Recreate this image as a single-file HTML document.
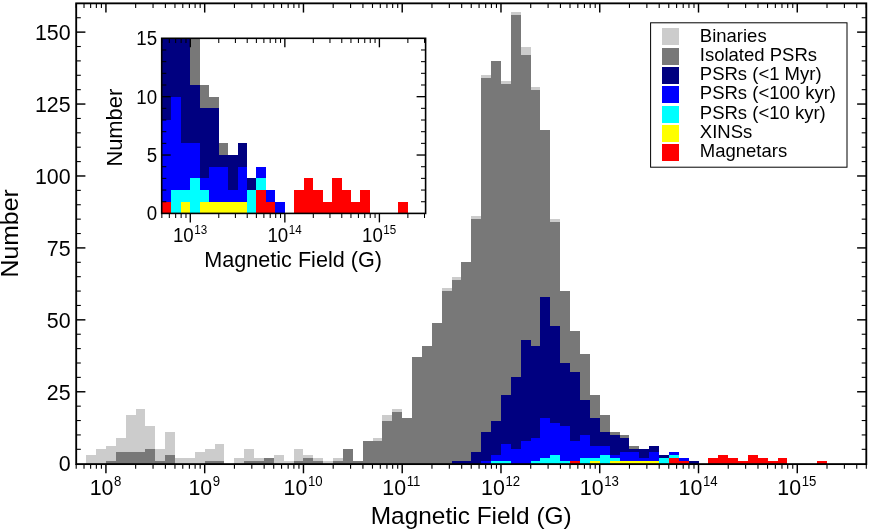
<!DOCTYPE html>
<html><head><meta charset="utf-8"><title>Magnetic field histogram</title>
<style>
html,body{margin:0;padding:0;background:#fff;}
body{width:869px;height:530px;overflow:hidden;}
svg{display:block;will-change:transform;}
text{font-family:"Liberation Sans",sans-serif;fill:#000;}
</style></head><body>
<svg width="869" height="530" viewBox="0 0 869 530">
<rect width="869" height="530" fill="#fff"/>
<g shape-rendering="crispEdges">
<path d="M86.18 463.7H96.05V455.07H86.18ZM96.05 463.7H105.93V449.31H96.05ZM105.93 463.7H115.81V446.44H105.93ZM115.81 463.7H125.68V437.81H115.81ZM125.68 463.7H135.56V414.79H125.68ZM135.56 463.7H145.44V409.03H135.56ZM145.44 463.7H155.31V426.3H145.44ZM155.31 463.7H165.19V449.31H155.31ZM165.19 463.7H175.06V432.05H165.19ZM175.06 463.7H184.94V457.95H175.06ZM184.94 463.7H194.82V457.95H184.94ZM194.82 463.7H204.69V452.19H194.82ZM204.69 463.7H214.57V449.31H204.69ZM214.57 463.7H224.45V443.56H214.57ZM234.32 463.7H244.2V457.95H234.32ZM244.2 463.7H254.07V449.31H244.2ZM254.07 463.7H263.95V457.95H254.07ZM263.95 463.7H273.83V457.95H263.95ZM273.83 463.7H283.7V455.07H273.83ZM283.7 463.7H293.58V460.82H283.7ZM293.58 463.7H303.46V449.31H293.58ZM303.46 463.7H313.33V455.07H303.46ZM313.33 463.7H323.21V457.95H313.33ZM323.21 463.7H333.08V460.82H323.21ZM333.08 463.7H342.96V457.95H333.08ZM342.96 463.7H352.84V449.31H342.96ZM352.84 463.7H362.71V460.82H352.84ZM362.71 463.7H372.59V440.68H362.71ZM372.59 463.7H382.47V437.81H372.59ZM382.47 463.7H392.34V414.79H382.47ZM392.34 463.7H402.22V409.03H392.34ZM402.22 463.7H412.09V417.66H402.22ZM412.09 463.7H421.97V357.24H412.09ZM421.97 463.7H431.85V345.74H421.97ZM431.85 463.7H441.72V322.72H431.85ZM441.72 463.7H451.6V288.19H441.72ZM451.6 463.7H461.48V276.68H451.6ZM461.48 463.7H471.35V262.3H461.48ZM471.35 463.7H481.23V216.26H471.35ZM481.23 463.7H491.1V75.28H481.23ZM491.1 463.7H500.98V60.89H491.1ZM500.98 463.7H510.86V81.03H500.98ZM510.86 463.7H520.73V11.98H510.86ZM520.73 463.7H530.61V46.51H520.73ZM530.61 463.7H540.49V86.79H530.61ZM540.49 463.7H550.36V129.95H540.49ZM550.36 463.7H560.24V219.14H550.36ZM560.24 463.7H570.11V291.07H560.24ZM570.11 463.7H579.99V331.35H570.11ZM579.99 463.7H589.87V354.37H579.99ZM589.87 463.7H599.74V394.65H589.87ZM599.74 463.7H609.62V414.79H599.74ZM609.62 463.7H619.5V432.05H609.62ZM619.5 463.7H629.37V434.93H619.5ZM629.37 463.7H639.25V446.44H629.37ZM639.25 463.7H649.12V449.31H639.25ZM649.12 463.7H659V446.44H649.12ZM659 463.7H668.88V455.07H659ZM668.88 463.7H678.75V452.19H668.88ZM678.75 463.7H688.63V457.95H678.75ZM688.63 463.7H698.51V460.82H688.63Z" fill="#cccccc"/>
<path d="M105.93 463.7H115.81V460.82H105.93ZM115.81 463.7H125.68V452.19H115.81ZM125.68 463.7H135.56V452.19H125.68ZM135.56 463.7H145.44V452.19H135.56ZM145.44 463.7H155.31V449.31H145.44ZM155.31 463.7H165.19V460.82H155.31ZM165.19 463.7H175.06V455.07H165.19ZM204.69 463.7H214.57V460.82H204.69ZM214.57 463.7H224.45V460.82H214.57ZM244.2 463.7H254.07V460.82H244.2ZM254.07 463.7H263.95V460.82H254.07ZM263.95 463.7H273.83V457.95H263.95ZM293.58 463.7H303.46V460.82H293.58ZM303.46 463.7H313.33V457.95H303.46ZM313.33 463.7H323.21V460.82H313.33ZM333.08 463.7H342.96V460.82H333.08ZM342.96 463.7H352.84V449.31H342.96ZM352.84 463.7H362.71V460.82H352.84ZM362.71 463.7H372.59V440.68H362.71ZM372.59 463.7H382.47V440.68H372.59ZM382.47 463.7H392.34V420.54H382.47ZM392.34 463.7H402.22V411.91H392.34ZM402.22 463.7H412.09V417.66H402.22ZM412.09 463.7H421.97V357.24H412.09ZM421.97 463.7H431.85V345.74H421.97ZM431.85 463.7H441.72V322.72H431.85ZM441.72 463.7H451.6V291.07H441.72ZM451.6 463.7H461.48V279.56H451.6ZM461.48 463.7H471.35V262.3H461.48ZM471.35 463.7H481.23V219.14H471.35ZM481.23 463.7H491.1V78.16H481.23ZM491.1 463.7H500.98V60.89H491.1ZM500.98 463.7H510.86V83.91H500.98ZM510.86 463.7H520.73V14.86H510.86ZM520.73 463.7H530.61V55.14H520.73ZM530.61 463.7H540.49V89.67H530.61ZM540.49 463.7H550.36V129.95H540.49ZM550.36 463.7H560.24V222.02H550.36ZM560.24 463.7H570.11V291.07H560.24ZM570.11 463.7H579.99V331.35H570.11ZM579.99 463.7H589.87V354.37H579.99ZM589.87 463.7H599.74V394.65H589.87ZM599.74 463.7H609.62V414.79H599.74ZM609.62 463.7H619.5V432.05H609.62ZM619.5 463.7H629.37V434.93H619.5ZM629.37 463.7H639.25V446.44H629.37ZM639.25 463.7H649.12V449.31H639.25ZM649.12 463.7H659V446.44H649.12ZM659 463.7H668.88V455.07H659ZM668.88 463.7H678.75V452.19H668.88ZM678.75 463.7H688.63V457.95H678.75ZM688.63 463.7H698.51V460.82H688.63Z" fill="#787878"/>
<path d="M451.6 463.7H461.48V460.82H451.6ZM461.48 463.7H471.35V460.82H461.48ZM471.35 463.7H481.23V452.19H471.35ZM481.23 463.7H491.1V432.05H481.23ZM491.1 463.7H500.98V420.54H491.1ZM500.98 463.7H510.86V394.65H500.98ZM510.86 463.7H520.73V377.38H510.86ZM520.73 463.7H530.61V339.98H520.73ZM530.61 463.7H540.49V345.74H530.61ZM540.49 463.7H550.36V296.82H540.49ZM550.36 463.7H560.24V325.6H550.36ZM560.24 463.7H570.11V363H560.24ZM570.11 463.7H579.99V371.63H570.11ZM579.99 463.7H589.87V400.4H579.99ZM589.87 463.7H599.74V417.66H589.87ZM599.74 463.7H609.62V432.05H599.74ZM609.62 463.7H619.5V434.93H609.62ZM619.5 463.7H629.37V437.81H619.5ZM629.37 463.7H639.25V449.31H629.37ZM639.25 463.7H649.12V449.31H639.25ZM649.12 463.7H659V446.44H649.12ZM659 463.7H668.88V455.07H659ZM668.88 463.7H678.75V452.19H668.88ZM678.75 463.7H688.63V457.95H678.75ZM688.63 463.7H698.51V460.82H688.63Z" fill="#000080"/>
<path d="M481.23 463.7H491.1V460.82H481.23ZM491.1 463.7H500.98V455.07H491.1ZM500.98 463.7H510.86V443.56H500.98ZM510.86 463.7H520.73V449.31H510.86ZM520.73 463.7H530.61V440.68H520.73ZM530.61 463.7H540.49V437.81H530.61ZM540.49 463.7H550.36V417.66H540.49ZM550.36 463.7H560.24V423.42H550.36ZM560.24 463.7H570.11V426.3H560.24ZM570.11 463.7H579.99V440.68H570.11ZM579.99 463.7H589.87V434.93H579.99ZM589.87 463.7H599.74V446.44H589.87ZM599.74 463.7H609.62V446.44H599.74ZM609.62 463.7H619.5V455.07H609.62ZM619.5 463.7H629.37V452.19H619.5ZM629.37 463.7H639.25V452.19H629.37ZM639.25 463.7H649.12V457.95H639.25ZM649.12 463.7H659V452.19H649.12ZM659 463.7H668.88V457.95H659ZM668.88 463.7H678.75V452.19H668.88ZM678.75 463.7H688.63V457.95H678.75Z" fill="#0000ff"/>
<path d="M491.1 463.7H500.98V460.82H491.1ZM500.98 463.7H510.86V460.82H500.98ZM530.61 463.7H540.49V460.82H530.61ZM540.49 463.7H550.36V457.95H540.49ZM550.36 463.7H560.24V455.07H550.36ZM560.24 463.7H570.11V460.82H560.24ZM579.99 463.7H589.87V457.95H579.99ZM589.87 463.7H599.74V457.95H589.87ZM599.74 463.7H609.62V455.07H599.74ZM609.62 463.7H619.5V457.95H609.62ZM659 463.7H668.88V457.95H659ZM668.88 463.7H678.75V455.07H668.88Z" fill="#00ffff"/>
<path d="M589.87 463.7H599.74V460.82H589.87ZM609.62 463.7H619.5V460.82H609.62ZM619.5 463.7H629.37V460.82H619.5ZM629.37 463.7H639.25V460.82H629.37ZM639.25 463.7H649.12V460.82H639.25ZM649.12 463.7H659V460.82H649.12Z" fill="#ffff00"/>
<path d="M570.11 463.7H579.99V460.82H570.11ZM668.88 463.7H678.75V457.95H668.88ZM678.75 463.7H688.63V460.82H678.75ZM708.38 463.7H718.26V457.95H708.38ZM718.26 463.7H728.13V455.07H718.26ZM728.13 463.7H738.01V457.95H728.13ZM738.01 463.7H747.89V460.82H738.01ZM747.89 463.7H757.76V455.07H747.89ZM757.76 463.7H767.64V457.95H757.76ZM767.64 463.7H777.52V460.82H767.64ZM777.52 463.7H787.39V457.95H777.52ZM817.02 463.7H826.9V460.82H817.02Z" fill="#ff0000"/>
</g>
<g stroke="#000"><line x1="76.2" y1="464.1" x2="76.2" y2="468.7" stroke-width="1.1"/>
<line x1="76.2" y1="3.35" x2="76.2" y2="7.95" stroke-width="1.1"/>
<line x1="84.02" y1="464.1" x2="84.02" y2="468.7" stroke-width="1.1"/>
<line x1="84.02" y1="3.35" x2="84.02" y2="7.95" stroke-width="1.1"/>
<line x1="90.63" y1="464.1" x2="90.63" y2="468.7" stroke-width="1.1"/>
<line x1="90.63" y1="3.35" x2="90.63" y2="7.95" stroke-width="1.1"/>
<line x1="96.36" y1="464.1" x2="96.36" y2="468.7" stroke-width="1.1"/>
<line x1="96.36" y1="3.35" x2="96.36" y2="7.95" stroke-width="1.1"/>
<line x1="101.41" y1="464.1" x2="101.41" y2="468.7" stroke-width="1.1"/>
<line x1="101.41" y1="3.35" x2="101.41" y2="7.95" stroke-width="1.1"/>
<line x1="105.93" y1="464.1" x2="105.93" y2="473.3" stroke-width="1.45"/>
<line x1="105.93" y1="3.35" x2="105.93" y2="12.55" stroke-width="1.45"/>
<line x1="135.66" y1="464.1" x2="135.66" y2="468.7" stroke-width="1.1"/>
<line x1="135.66" y1="3.35" x2="135.66" y2="7.95" stroke-width="1.1"/>
<line x1="153.05" y1="464.1" x2="153.05" y2="468.7" stroke-width="1.1"/>
<line x1="153.05" y1="3.35" x2="153.05" y2="7.95" stroke-width="1.1"/>
<line x1="165.39" y1="464.1" x2="165.39" y2="468.7" stroke-width="1.1"/>
<line x1="165.39" y1="3.35" x2="165.39" y2="7.95" stroke-width="1.1"/>
<line x1="174.96" y1="464.1" x2="174.96" y2="468.7" stroke-width="1.1"/>
<line x1="174.96" y1="3.35" x2="174.96" y2="7.95" stroke-width="1.1"/>
<line x1="182.78" y1="464.1" x2="182.78" y2="468.7" stroke-width="1.1"/>
<line x1="182.78" y1="3.35" x2="182.78" y2="7.95" stroke-width="1.1"/>
<line x1="189.39" y1="464.1" x2="189.39" y2="468.7" stroke-width="1.1"/>
<line x1="189.39" y1="3.35" x2="189.39" y2="7.95" stroke-width="1.1"/>
<line x1="195.12" y1="464.1" x2="195.12" y2="468.7" stroke-width="1.1"/>
<line x1="195.12" y1="3.35" x2="195.12" y2="7.95" stroke-width="1.1"/>
<line x1="200.17" y1="464.1" x2="200.17" y2="468.7" stroke-width="1.1"/>
<line x1="200.17" y1="3.35" x2="200.17" y2="7.95" stroke-width="1.1"/>
<line x1="204.69" y1="464.1" x2="204.69" y2="473.3" stroke-width="1.45"/>
<line x1="204.69" y1="3.35" x2="204.69" y2="12.55" stroke-width="1.45"/>
<line x1="234.42" y1="464.1" x2="234.42" y2="468.7" stroke-width="1.1"/>
<line x1="234.42" y1="3.35" x2="234.42" y2="7.95" stroke-width="1.1"/>
<line x1="251.81" y1="464.1" x2="251.81" y2="468.7" stroke-width="1.1"/>
<line x1="251.81" y1="3.35" x2="251.81" y2="7.95" stroke-width="1.1"/>
<line x1="264.15" y1="464.1" x2="264.15" y2="468.7" stroke-width="1.1"/>
<line x1="264.15" y1="3.35" x2="264.15" y2="7.95" stroke-width="1.1"/>
<line x1="273.72" y1="464.1" x2="273.72" y2="468.7" stroke-width="1.1"/>
<line x1="273.72" y1="3.35" x2="273.72" y2="7.95" stroke-width="1.1"/>
<line x1="281.55" y1="464.1" x2="281.55" y2="468.7" stroke-width="1.1"/>
<line x1="281.55" y1="3.35" x2="281.55" y2="7.95" stroke-width="1.1"/>
<line x1="288.16" y1="464.1" x2="288.16" y2="468.7" stroke-width="1.1"/>
<line x1="288.16" y1="3.35" x2="288.16" y2="7.95" stroke-width="1.1"/>
<line x1="293.88" y1="464.1" x2="293.88" y2="468.7" stroke-width="1.1"/>
<line x1="293.88" y1="3.35" x2="293.88" y2="7.95" stroke-width="1.1"/>
<line x1="298.94" y1="464.1" x2="298.94" y2="468.7" stroke-width="1.1"/>
<line x1="298.94" y1="3.35" x2="298.94" y2="7.95" stroke-width="1.1"/>
<line x1="303.46" y1="464.1" x2="303.46" y2="473.3" stroke-width="1.45"/>
<line x1="303.46" y1="3.35" x2="303.46" y2="12.55" stroke-width="1.45"/>
<line x1="333.19" y1="464.1" x2="333.19" y2="468.7" stroke-width="1.1"/>
<line x1="333.19" y1="3.35" x2="333.19" y2="7.95" stroke-width="1.1"/>
<line x1="350.58" y1="464.1" x2="350.58" y2="468.7" stroke-width="1.1"/>
<line x1="350.58" y1="3.35" x2="350.58" y2="7.95" stroke-width="1.1"/>
<line x1="362.92" y1="464.1" x2="362.92" y2="468.7" stroke-width="1.1"/>
<line x1="362.92" y1="3.35" x2="362.92" y2="7.95" stroke-width="1.1"/>
<line x1="372.49" y1="464.1" x2="372.49" y2="468.7" stroke-width="1.1"/>
<line x1="372.49" y1="3.35" x2="372.49" y2="7.95" stroke-width="1.1"/>
<line x1="380.31" y1="464.1" x2="380.31" y2="468.7" stroke-width="1.1"/>
<line x1="380.31" y1="3.35" x2="380.31" y2="7.95" stroke-width="1.1"/>
<line x1="386.92" y1="464.1" x2="386.92" y2="468.7" stroke-width="1.1"/>
<line x1="386.92" y1="3.35" x2="386.92" y2="7.95" stroke-width="1.1"/>
<line x1="392.65" y1="464.1" x2="392.65" y2="468.7" stroke-width="1.1"/>
<line x1="392.65" y1="3.35" x2="392.65" y2="7.95" stroke-width="1.1"/>
<line x1="397.7" y1="464.1" x2="397.7" y2="468.7" stroke-width="1.1"/>
<line x1="397.7" y1="3.35" x2="397.7" y2="7.95" stroke-width="1.1"/>
<line x1="402.22" y1="464.1" x2="402.22" y2="473.3" stroke-width="1.45"/>
<line x1="402.22" y1="3.35" x2="402.22" y2="12.55" stroke-width="1.45"/>
<line x1="431.95" y1="464.1" x2="431.95" y2="468.7" stroke-width="1.1"/>
<line x1="431.95" y1="3.35" x2="431.95" y2="7.95" stroke-width="1.1"/>
<line x1="449.34" y1="464.1" x2="449.34" y2="468.7" stroke-width="1.1"/>
<line x1="449.34" y1="3.35" x2="449.34" y2="7.95" stroke-width="1.1"/>
<line x1="461.68" y1="464.1" x2="461.68" y2="468.7" stroke-width="1.1"/>
<line x1="461.68" y1="3.35" x2="461.68" y2="7.95" stroke-width="1.1"/>
<line x1="471.25" y1="464.1" x2="471.25" y2="468.7" stroke-width="1.1"/>
<line x1="471.25" y1="3.35" x2="471.25" y2="7.95" stroke-width="1.1"/>
<line x1="479.07" y1="464.1" x2="479.07" y2="468.7" stroke-width="1.1"/>
<line x1="479.07" y1="3.35" x2="479.07" y2="7.95" stroke-width="1.1"/>
<line x1="485.68" y1="464.1" x2="485.68" y2="468.7" stroke-width="1.1"/>
<line x1="485.68" y1="3.35" x2="485.68" y2="7.95" stroke-width="1.1"/>
<line x1="491.41" y1="464.1" x2="491.41" y2="468.7" stroke-width="1.1"/>
<line x1="491.41" y1="3.35" x2="491.41" y2="7.95" stroke-width="1.1"/>
<line x1="496.46" y1="464.1" x2="496.46" y2="468.7" stroke-width="1.1"/>
<line x1="496.46" y1="3.35" x2="496.46" y2="7.95" stroke-width="1.1"/>
<line x1="500.98" y1="464.1" x2="500.98" y2="473.3" stroke-width="1.45"/>
<line x1="500.98" y1="3.35" x2="500.98" y2="12.55" stroke-width="1.45"/>
<line x1="530.71" y1="464.1" x2="530.71" y2="468.7" stroke-width="1.1"/>
<line x1="530.71" y1="3.35" x2="530.71" y2="7.95" stroke-width="1.1"/>
<line x1="548.1" y1="464.1" x2="548.1" y2="468.7" stroke-width="1.1"/>
<line x1="548.1" y1="3.35" x2="548.1" y2="7.95" stroke-width="1.1"/>
<line x1="560.44" y1="464.1" x2="560.44" y2="468.7" stroke-width="1.1"/>
<line x1="560.44" y1="3.35" x2="560.44" y2="7.95" stroke-width="1.1"/>
<line x1="570.01" y1="464.1" x2="570.01" y2="468.7" stroke-width="1.1"/>
<line x1="570.01" y1="3.35" x2="570.01" y2="7.95" stroke-width="1.1"/>
<line x1="577.83" y1="464.1" x2="577.83" y2="468.7" stroke-width="1.1"/>
<line x1="577.83" y1="3.35" x2="577.83" y2="7.95" stroke-width="1.1"/>
<line x1="584.44" y1="464.1" x2="584.44" y2="468.7" stroke-width="1.1"/>
<line x1="584.44" y1="3.35" x2="584.44" y2="7.95" stroke-width="1.1"/>
<line x1="590.17" y1="464.1" x2="590.17" y2="468.7" stroke-width="1.1"/>
<line x1="590.17" y1="3.35" x2="590.17" y2="7.95" stroke-width="1.1"/>
<line x1="595.22" y1="464.1" x2="595.22" y2="468.7" stroke-width="1.1"/>
<line x1="595.22" y1="3.35" x2="595.22" y2="7.95" stroke-width="1.1"/>
<line x1="599.74" y1="464.1" x2="599.74" y2="473.3" stroke-width="1.45"/>
<line x1="599.74" y1="3.35" x2="599.74" y2="12.55" stroke-width="1.45"/>
<line x1="629.47" y1="464.1" x2="629.47" y2="468.7" stroke-width="1.1"/>
<line x1="629.47" y1="3.35" x2="629.47" y2="7.95" stroke-width="1.1"/>
<line x1="646.86" y1="464.1" x2="646.86" y2="468.7" stroke-width="1.1"/>
<line x1="646.86" y1="3.35" x2="646.86" y2="7.95" stroke-width="1.1"/>
<line x1="659.2" y1="464.1" x2="659.2" y2="468.7" stroke-width="1.1"/>
<line x1="659.2" y1="3.35" x2="659.2" y2="7.95" stroke-width="1.1"/>
<line x1="668.77" y1="464.1" x2="668.77" y2="468.7" stroke-width="1.1"/>
<line x1="668.77" y1="3.35" x2="668.77" y2="7.95" stroke-width="1.1"/>
<line x1="676.6" y1="464.1" x2="676.6" y2="468.7" stroke-width="1.1"/>
<line x1="676.6" y1="3.35" x2="676.6" y2="7.95" stroke-width="1.1"/>
<line x1="683.21" y1="464.1" x2="683.21" y2="468.7" stroke-width="1.1"/>
<line x1="683.21" y1="3.35" x2="683.21" y2="7.95" stroke-width="1.1"/>
<line x1="688.93" y1="464.1" x2="688.93" y2="468.7" stroke-width="1.1"/>
<line x1="688.93" y1="3.35" x2="688.93" y2="7.95" stroke-width="1.1"/>
<line x1="693.99" y1="464.1" x2="693.99" y2="468.7" stroke-width="1.1"/>
<line x1="693.99" y1="3.35" x2="693.99" y2="7.95" stroke-width="1.1"/>
<line x1="698.51" y1="464.1" x2="698.51" y2="473.3" stroke-width="1.45"/>
<line x1="698.51" y1="3.35" x2="698.51" y2="12.55" stroke-width="1.45"/>
<line x1="728.24" y1="464.1" x2="728.24" y2="468.7" stroke-width="1.1"/>
<line x1="728.24" y1="3.35" x2="728.24" y2="7.95" stroke-width="1.1"/>
<line x1="745.63" y1="464.1" x2="745.63" y2="468.7" stroke-width="1.1"/>
<line x1="745.63" y1="3.35" x2="745.63" y2="7.95" stroke-width="1.1"/>
<line x1="757.97" y1="464.1" x2="757.97" y2="468.7" stroke-width="1.1"/>
<line x1="757.97" y1="3.35" x2="757.97" y2="7.95" stroke-width="1.1"/>
<line x1="767.54" y1="464.1" x2="767.54" y2="468.7" stroke-width="1.1"/>
<line x1="767.54" y1="3.35" x2="767.54" y2="7.95" stroke-width="1.1"/>
<line x1="775.36" y1="464.1" x2="775.36" y2="468.7" stroke-width="1.1"/>
<line x1="775.36" y1="3.35" x2="775.36" y2="7.95" stroke-width="1.1"/>
<line x1="781.97" y1="464.1" x2="781.97" y2="468.7" stroke-width="1.1"/>
<line x1="781.97" y1="3.35" x2="781.97" y2="7.95" stroke-width="1.1"/>
<line x1="787.7" y1="464.1" x2="787.7" y2="468.7" stroke-width="1.1"/>
<line x1="787.7" y1="3.35" x2="787.7" y2="7.95" stroke-width="1.1"/>
<line x1="792.75" y1="464.1" x2="792.75" y2="468.7" stroke-width="1.1"/>
<line x1="792.75" y1="3.35" x2="792.75" y2="7.95" stroke-width="1.1"/>
<line x1="797.27" y1="464.1" x2="797.27" y2="473.3" stroke-width="1.45"/>
<line x1="797.27" y1="3.35" x2="797.27" y2="12.55" stroke-width="1.45"/>
<line x1="827" y1="464.1" x2="827" y2="468.7" stroke-width="1.1"/>
<line x1="827" y1="3.35" x2="827" y2="7.95" stroke-width="1.1"/>
<line x1="844.39" y1="464.1" x2="844.39" y2="468.7" stroke-width="1.1"/>
<line x1="844.39" y1="3.35" x2="844.39" y2="7.95" stroke-width="1.1"/>
<line x1="856.73" y1="464.1" x2="856.73" y2="468.7" stroke-width="1.1"/>
<line x1="856.73" y1="3.35" x2="856.73" y2="7.95" stroke-width="1.1"/>
<line x1="866.3" y1="464.1" x2="866.3" y2="468.7" stroke-width="1.1"/>
<line x1="866.3" y1="3.35" x2="866.3" y2="7.95" stroke-width="1.1"/>
<line x1="76.2" y1="449.31" x2="80.8" y2="449.31" stroke-width="1.1"/>
<line x1="866.3" y1="449.31" x2="861.7" y2="449.31" stroke-width="1.1"/>
<line x1="76.2" y1="434.93" x2="80.8" y2="434.93" stroke-width="1.1"/>
<line x1="866.3" y1="434.93" x2="861.7" y2="434.93" stroke-width="1.1"/>
<line x1="76.2" y1="420.54" x2="80.8" y2="420.54" stroke-width="1.1"/>
<line x1="866.3" y1="420.54" x2="861.7" y2="420.54" stroke-width="1.1"/>
<line x1="76.2" y1="406.16" x2="80.8" y2="406.16" stroke-width="1.1"/>
<line x1="866.3" y1="406.16" x2="861.7" y2="406.16" stroke-width="1.1"/>
<line x1="76.2" y1="391.77" x2="85.4" y2="391.77" stroke-width="1.45"/>
<line x1="866.3" y1="391.77" x2="857.1" y2="391.77" stroke-width="1.45"/>
<line x1="76.2" y1="377.38" x2="80.8" y2="377.38" stroke-width="1.1"/>
<line x1="866.3" y1="377.38" x2="861.7" y2="377.38" stroke-width="1.1"/>
<line x1="76.2" y1="363" x2="80.8" y2="363" stroke-width="1.1"/>
<line x1="866.3" y1="363" x2="861.7" y2="363" stroke-width="1.1"/>
<line x1="76.2" y1="348.61" x2="80.8" y2="348.61" stroke-width="1.1"/>
<line x1="866.3" y1="348.61" x2="861.7" y2="348.61" stroke-width="1.1"/>
<line x1="76.2" y1="334.23" x2="80.8" y2="334.23" stroke-width="1.1"/>
<line x1="866.3" y1="334.23" x2="861.7" y2="334.23" stroke-width="1.1"/>
<line x1="76.2" y1="319.84" x2="85.4" y2="319.84" stroke-width="1.45"/>
<line x1="866.3" y1="319.84" x2="857.1" y2="319.84" stroke-width="1.45"/>
<line x1="76.2" y1="305.45" x2="80.8" y2="305.45" stroke-width="1.1"/>
<line x1="866.3" y1="305.45" x2="861.7" y2="305.45" stroke-width="1.1"/>
<line x1="76.2" y1="291.07" x2="80.8" y2="291.07" stroke-width="1.1"/>
<line x1="866.3" y1="291.07" x2="861.7" y2="291.07" stroke-width="1.1"/>
<line x1="76.2" y1="276.68" x2="80.8" y2="276.68" stroke-width="1.1"/>
<line x1="866.3" y1="276.68" x2="861.7" y2="276.68" stroke-width="1.1"/>
<line x1="76.2" y1="262.3" x2="80.8" y2="262.3" stroke-width="1.1"/>
<line x1="866.3" y1="262.3" x2="861.7" y2="262.3" stroke-width="1.1"/>
<line x1="76.2" y1="247.91" x2="85.4" y2="247.91" stroke-width="1.45"/>
<line x1="866.3" y1="247.91" x2="857.1" y2="247.91" stroke-width="1.45"/>
<line x1="76.2" y1="233.53" x2="80.8" y2="233.53" stroke-width="1.1"/>
<line x1="866.3" y1="233.53" x2="861.7" y2="233.53" stroke-width="1.1"/>
<line x1="76.2" y1="219.14" x2="80.8" y2="219.14" stroke-width="1.1"/>
<line x1="866.3" y1="219.14" x2="861.7" y2="219.14" stroke-width="1.1"/>
<line x1="76.2" y1="204.75" x2="80.8" y2="204.75" stroke-width="1.1"/>
<line x1="866.3" y1="204.75" x2="861.7" y2="204.75" stroke-width="1.1"/>
<line x1="76.2" y1="190.37" x2="80.8" y2="190.37" stroke-width="1.1"/>
<line x1="866.3" y1="190.37" x2="861.7" y2="190.37" stroke-width="1.1"/>
<line x1="76.2" y1="175.98" x2="85.4" y2="175.98" stroke-width="1.45"/>
<line x1="866.3" y1="175.98" x2="857.1" y2="175.98" stroke-width="1.45"/>
<line x1="76.2" y1="161.6" x2="80.8" y2="161.6" stroke-width="1.1"/>
<line x1="866.3" y1="161.6" x2="861.7" y2="161.6" stroke-width="1.1"/>
<line x1="76.2" y1="147.21" x2="80.8" y2="147.21" stroke-width="1.1"/>
<line x1="866.3" y1="147.21" x2="861.7" y2="147.21" stroke-width="1.1"/>
<line x1="76.2" y1="132.82" x2="80.8" y2="132.82" stroke-width="1.1"/>
<line x1="866.3" y1="132.82" x2="861.7" y2="132.82" stroke-width="1.1"/>
<line x1="76.2" y1="118.44" x2="80.8" y2="118.44" stroke-width="1.1"/>
<line x1="866.3" y1="118.44" x2="861.7" y2="118.44" stroke-width="1.1"/>
<line x1="76.2" y1="104.05" x2="85.4" y2="104.05" stroke-width="1.45"/>
<line x1="866.3" y1="104.05" x2="857.1" y2="104.05" stroke-width="1.45"/>
<line x1="76.2" y1="89.67" x2="80.8" y2="89.67" stroke-width="1.1"/>
<line x1="866.3" y1="89.67" x2="861.7" y2="89.67" stroke-width="1.1"/>
<line x1="76.2" y1="75.28" x2="80.8" y2="75.28" stroke-width="1.1"/>
<line x1="866.3" y1="75.28" x2="861.7" y2="75.28" stroke-width="1.1"/>
<line x1="76.2" y1="60.89" x2="80.8" y2="60.89" stroke-width="1.1"/>
<line x1="866.3" y1="60.89" x2="861.7" y2="60.89" stroke-width="1.1"/>
<line x1="76.2" y1="46.51" x2="80.8" y2="46.51" stroke-width="1.1"/>
<line x1="866.3" y1="46.51" x2="861.7" y2="46.51" stroke-width="1.1"/>
<line x1="76.2" y1="32.12" x2="85.4" y2="32.12" stroke-width="1.45"/>
<line x1="866.3" y1="32.12" x2="857.1" y2="32.12" stroke-width="1.45"/>
<line x1="76.2" y1="17.74" x2="80.8" y2="17.74" stroke-width="1.1"/>
<line x1="866.3" y1="17.74" x2="861.7" y2="17.74" stroke-width="1.1"/></g>
<rect x="76.2" y="3.35" width="790.1" height="460.75" fill="none" stroke="#000" stroke-width="1.85"/>
<text transform="translate(70.6 471.46) scale(1 1.04)" font-size="21.4" text-anchor="end">0</text>
<text transform="translate(70.6 399.53) scale(1 1.04)" font-size="21.4" text-anchor="end">25</text>
<text transform="translate(70.6 327.6) scale(1 1.04)" font-size="21.4" text-anchor="end">50</text>
<text transform="translate(70.6 255.67) scale(1 1.04)" font-size="21.4" text-anchor="end">75</text>
<text transform="translate(70.6 183.74) scale(1 1.04)" font-size="21.4" text-anchor="end">100</text>
<text transform="translate(70.6 111.81) scale(1 1.04)" font-size="21.4" text-anchor="end">125</text>
<text transform="translate(70.6 39.88) scale(1 1.04)" font-size="21.4" text-anchor="end">150</text>
<text transform="translate(89.66 494.8) scale(1 1.04)" font-size="21.4">10</text>
<text transform="translate(114.06 485.8) scale(1 1.04)" font-size="13.2">8</text>
<text transform="translate(188.42 494.8) scale(1 1.04)" font-size="21.4">10</text>
<text transform="translate(212.82 485.8) scale(1 1.04)" font-size="13.2">9</text>
<text transform="translate(283.52 494.8) scale(1 1.04)" font-size="21.4">10</text>
<text transform="translate(307.91 485.8) scale(1 1.04)" font-size="13.2">10</text>
<text transform="translate(382.28 494.8) scale(1 1.04)" font-size="21.4">10</text>
<text transform="translate(406.68 485.8) scale(1 1.04)" font-size="13.2">11</text>
<text transform="translate(481.04 494.8) scale(1 1.04)" font-size="21.4">10</text>
<text transform="translate(505.44 485.8) scale(1 1.04)" font-size="13.2">12</text>
<text transform="translate(579.81 494.8) scale(1 1.04)" font-size="21.4">10</text>
<text transform="translate(604.2 485.8) scale(1 1.04)" font-size="13.2">13</text>
<text transform="translate(678.57 494.8) scale(1 1.04)" font-size="21.4">10</text>
<text transform="translate(702.96 485.8) scale(1 1.04)" font-size="13.2">14</text>
<text transform="translate(777.33 494.8) scale(1 1.04)" font-size="21.4">10</text>
<text transform="translate(801.73 485.8) scale(1 1.04)" font-size="13.2">15</text>
<text x="471.2" y="524.2" font-size="24.45" text-anchor="middle">Magnetic Field (G)</text>
<text transform="translate(18.4 233.4) rotate(-90)" font-size="24.8" text-anchor="middle">Number</text>
<rect x="650.6" y="22.8" width="196.4" height="144.4" fill="#fff" stroke="#000" stroke-width="1"/>
<rect x="661.8" y="28.4" width="17.2" height="17" fill="#cccccc" shape-rendering="crispEdges"/>
<text x="699.8" y="41.5" font-size="18.5">Binaries</text>
<rect x="661.8" y="47.68" width="17.2" height="17" fill="#787878" shape-rendering="crispEdges"/>
<text x="699.8" y="60.78" font-size="18.5">Isolated PSRs</text>
<rect x="661.8" y="66.96" width="17.2" height="17" fill="#000080" shape-rendering="crispEdges"/>
<text x="699.8" y="80.06" font-size="18.5">PSRs (&lt;1 Myr)</text>
<rect x="661.8" y="86.24" width="17.2" height="17" fill="#0000ff" shape-rendering="crispEdges"/>
<text x="699.8" y="99.34" font-size="18.5">PSRs (&lt;100 kyr)</text>
<rect x="661.8" y="105.52" width="17.2" height="17" fill="#00ffff" shape-rendering="crispEdges"/>
<text x="699.8" y="118.62" font-size="18.5">PSRs (&lt;10 kyr)</text>
<rect x="661.8" y="124.8" width="17.2" height="17" fill="#ffff00" shape-rendering="crispEdges"/>
<text x="699.8" y="137.9" font-size="18.5">XINSs</text>
<rect x="661.8" y="144.08" width="17.2" height="17" fill="#ff0000" shape-rendering="crispEdges"/>
<text x="699.8" y="157.18" font-size="18.5">Magnetars</text>
<rect x="161.7" y="38.3" width="263.9" height="175.1" fill="#fff"/>
<g shape-rendering="crispEdges">
<path d="M161.7 213.4H161.94V38.3H161.7ZM161.93 213.4H171.39V38.3H161.93ZM171.39 213.4H180.85V38.3H171.39ZM180.85 213.4H190.3V38.3H180.85ZM190.3 213.4H199.75V38.3H190.3ZM199.76 213.4H209.21V84.99H199.76ZM209.21 213.4H218.66V96.67H209.21ZM218.67 213.4H228.12V143.36H218.67ZM228.12 213.4H237.58V155.03H228.12ZM237.58 213.4H247.03V143.36H237.58ZM247.03 213.4H256.49V178.38H247.03ZM256.48 213.4H265.94V166.71H256.48ZM265.94 213.4H275.4V190.05H265.94ZM275.4 213.4H284.85V201.73H275.4Z" fill="#cccccc"/>
<path d="M161.7 213.4H161.94V38.3H161.7ZM161.93 213.4H171.39V38.3H161.93ZM171.39 213.4H180.85V38.3H171.39ZM180.85 213.4H190.3V38.3H180.85ZM190.3 213.4H199.75V38.3H190.3ZM199.76 213.4H209.21V84.99H199.76ZM209.21 213.4H218.66V96.67H209.21ZM218.67 213.4H228.12V143.36H218.67ZM228.12 213.4H237.58V155.03H228.12ZM237.58 213.4H247.03V143.36H237.58ZM247.03 213.4H256.49V178.38H247.03ZM256.48 213.4H265.94V166.71H256.48ZM265.94 213.4H275.4V190.05H265.94ZM275.4 213.4H284.85V201.73H275.4Z" fill="#787878"/>
<path d="M161.7 213.4H161.94V38.3H161.7ZM161.93 213.4H171.39V38.3H161.93ZM171.39 213.4H180.85V38.3H171.39ZM180.85 213.4H190.3V38.3H180.85ZM190.3 213.4H199.75V84.99H190.3ZM199.76 213.4H209.21V108.34H199.76ZM209.21 213.4H218.66V108.34H209.21ZM218.67 213.4H228.12V155.03H218.67ZM228.12 213.4H237.58V155.03H228.12ZM237.58 213.4H247.03V143.36H237.58ZM247.03 213.4H256.49V178.38H247.03ZM256.48 213.4H265.94V166.71H256.48ZM265.94 213.4H275.4V190.05H265.94ZM275.4 213.4H284.85V201.73H275.4Z" fill="#000080"/>
<path d="M161.7 213.4H161.94V61.65H161.7ZM161.93 213.4H171.39V120.01H161.93ZM171.39 213.4H180.85V96.67H171.39ZM180.85 213.4H190.3V143.36H180.85ZM190.3 213.4H199.75V143.36H190.3ZM199.76 213.4H209.21V178.38H199.76ZM209.21 213.4H218.66V166.71H209.21ZM218.67 213.4H228.12V166.71H218.67ZM228.12 213.4H237.58V190.05H228.12ZM237.58 213.4H247.03V166.71H237.58ZM247.03 213.4H256.49V190.05H247.03ZM256.48 213.4H265.94V166.71H256.48ZM265.94 213.4H275.4V190.05H265.94ZM275.4 213.4H284.85V201.73H275.4Z" fill="#0000ff"/>
<path d="M161.7 213.4H161.94V201.73H161.7ZM171.39 213.4H180.85V190.05H171.39ZM180.85 213.4H190.3V190.05H180.85ZM190.3 213.4H199.75V178.38H190.3ZM199.76 213.4H209.21V190.05H199.76ZM247.03 213.4H256.49V190.05H247.03ZM256.48 213.4H265.94V178.38H256.48Z" fill="#00ffff"/>
<path d="M180.85 213.4H190.3V201.73H180.85ZM199.76 213.4H209.21V201.73H199.76ZM209.21 213.4H218.66V201.73H209.21ZM218.67 213.4H228.12V201.73H218.67ZM228.12 213.4H237.58V201.73H228.12ZM237.58 213.4H247.03V201.73H237.58Z" fill="#ffff00"/>
<path d="M161.93 213.4H171.39V201.73H161.93ZM256.48 213.4H265.94V190.05H256.48ZM265.94 213.4H275.4V201.73H265.94ZM294.31 213.4H303.76V190.05H294.31ZM303.76 213.4H313.21V178.38H303.76ZM313.22 213.4H322.67V190.05H313.22ZM322.67 213.4H332.12V201.73H322.67ZM332.12 213.4H341.58V178.38H332.12ZM341.58 213.4H351.04V190.05H341.58ZM351.03 213.4H360.49V201.73H351.03ZM360.49 213.4H369.95V190.05H360.49ZM398.31 213.4H407.76V201.73H398.31Z" fill="#ff0000"/>
</g>
<g stroke="#000"><line x1="161.84" y1="213.4" x2="161.84" y2="218" stroke-width="1.05"/>
<line x1="161.84" y1="38.3" x2="161.84" y2="42.9" stroke-width="1.05"/>
<line x1="169.32" y1="213.4" x2="169.32" y2="218" stroke-width="1.05"/>
<line x1="169.32" y1="38.3" x2="169.32" y2="42.9" stroke-width="1.05"/>
<line x1="175.65" y1="213.4" x2="175.65" y2="218" stroke-width="1.05"/>
<line x1="175.65" y1="38.3" x2="175.65" y2="42.9" stroke-width="1.05"/>
<line x1="181.14" y1="213.4" x2="181.14" y2="218" stroke-width="1.05"/>
<line x1="181.14" y1="38.3" x2="181.14" y2="42.9" stroke-width="1.05"/>
<line x1="185.97" y1="213.4" x2="185.97" y2="218" stroke-width="1.05"/>
<line x1="185.97" y1="38.3" x2="185.97" y2="42.9" stroke-width="1.05"/>
<line x1="190.3" y1="213.4" x2="190.3" y2="222.4" stroke-width="1.35"/>
<line x1="190.3" y1="38.3" x2="190.3" y2="47.3" stroke-width="1.35"/>
<line x1="218.76" y1="213.4" x2="218.76" y2="218" stroke-width="1.05"/>
<line x1="218.76" y1="38.3" x2="218.76" y2="42.9" stroke-width="1.05"/>
<line x1="235.41" y1="213.4" x2="235.41" y2="218" stroke-width="1.05"/>
<line x1="235.41" y1="38.3" x2="235.41" y2="42.9" stroke-width="1.05"/>
<line x1="247.22" y1="213.4" x2="247.22" y2="218" stroke-width="1.05"/>
<line x1="247.22" y1="38.3" x2="247.22" y2="42.9" stroke-width="1.05"/>
<line x1="256.39" y1="213.4" x2="256.39" y2="218" stroke-width="1.05"/>
<line x1="256.39" y1="38.3" x2="256.39" y2="42.9" stroke-width="1.05"/>
<line x1="263.87" y1="213.4" x2="263.87" y2="218" stroke-width="1.05"/>
<line x1="263.87" y1="38.3" x2="263.87" y2="42.9" stroke-width="1.05"/>
<line x1="270.2" y1="213.4" x2="270.2" y2="218" stroke-width="1.05"/>
<line x1="270.2" y1="38.3" x2="270.2" y2="42.9" stroke-width="1.05"/>
<line x1="275.69" y1="213.4" x2="275.69" y2="218" stroke-width="1.05"/>
<line x1="275.69" y1="38.3" x2="275.69" y2="42.9" stroke-width="1.05"/>
<line x1="280.52" y1="213.4" x2="280.52" y2="218" stroke-width="1.05"/>
<line x1="280.52" y1="38.3" x2="280.52" y2="42.9" stroke-width="1.05"/>
<line x1="284.85" y1="213.4" x2="284.85" y2="222.4" stroke-width="1.35"/>
<line x1="284.85" y1="38.3" x2="284.85" y2="47.3" stroke-width="1.35"/>
<line x1="313.31" y1="213.4" x2="313.31" y2="218" stroke-width="1.05"/>
<line x1="313.31" y1="38.3" x2="313.31" y2="42.9" stroke-width="1.05"/>
<line x1="329.96" y1="213.4" x2="329.96" y2="218" stroke-width="1.05"/>
<line x1="329.96" y1="38.3" x2="329.96" y2="42.9" stroke-width="1.05"/>
<line x1="341.77" y1="213.4" x2="341.77" y2="218" stroke-width="1.05"/>
<line x1="341.77" y1="38.3" x2="341.77" y2="42.9" stroke-width="1.05"/>
<line x1="350.94" y1="213.4" x2="350.94" y2="218" stroke-width="1.05"/>
<line x1="350.94" y1="38.3" x2="350.94" y2="42.9" stroke-width="1.05"/>
<line x1="358.42" y1="213.4" x2="358.42" y2="218" stroke-width="1.05"/>
<line x1="358.42" y1="38.3" x2="358.42" y2="42.9" stroke-width="1.05"/>
<line x1="364.75" y1="213.4" x2="364.75" y2="218" stroke-width="1.05"/>
<line x1="364.75" y1="38.3" x2="364.75" y2="42.9" stroke-width="1.05"/>
<line x1="370.24" y1="213.4" x2="370.24" y2="218" stroke-width="1.05"/>
<line x1="370.24" y1="38.3" x2="370.24" y2="42.9" stroke-width="1.05"/>
<line x1="375.07" y1="213.4" x2="375.07" y2="218" stroke-width="1.05"/>
<line x1="375.07" y1="38.3" x2="375.07" y2="42.9" stroke-width="1.05"/>
<line x1="379.4" y1="213.4" x2="379.4" y2="222.4" stroke-width="1.35"/>
<line x1="379.4" y1="38.3" x2="379.4" y2="47.3" stroke-width="1.35"/>
<line x1="407.86" y1="213.4" x2="407.86" y2="218" stroke-width="1.05"/>
<line x1="407.86" y1="38.3" x2="407.86" y2="42.9" stroke-width="1.05"/>
<line x1="424.51" y1="213.4" x2="424.51" y2="218" stroke-width="1.05"/>
<line x1="424.51" y1="38.3" x2="424.51" y2="42.9" stroke-width="1.05"/>
<line x1="161.7" y1="201.73" x2="166.3" y2="201.73" stroke-width="1.05"/>
<line x1="425.6" y1="201.73" x2="421" y2="201.73" stroke-width="1.05"/>
<line x1="161.7" y1="190.05" x2="166.3" y2="190.05" stroke-width="1.05"/>
<line x1="425.6" y1="190.05" x2="421" y2="190.05" stroke-width="1.05"/>
<line x1="161.7" y1="178.38" x2="166.3" y2="178.38" stroke-width="1.05"/>
<line x1="425.6" y1="178.38" x2="421" y2="178.38" stroke-width="1.05"/>
<line x1="161.7" y1="166.71" x2="166.3" y2="166.71" stroke-width="1.05"/>
<line x1="425.6" y1="166.71" x2="421" y2="166.71" stroke-width="1.05"/>
<line x1="161.7" y1="155.03" x2="170.7" y2="155.03" stroke-width="1.35"/>
<line x1="425.6" y1="155.03" x2="416.6" y2="155.03" stroke-width="1.35"/>
<line x1="161.7" y1="143.36" x2="166.3" y2="143.36" stroke-width="1.05"/>
<line x1="425.6" y1="143.36" x2="421" y2="143.36" stroke-width="1.05"/>
<line x1="161.7" y1="131.69" x2="166.3" y2="131.69" stroke-width="1.05"/>
<line x1="425.6" y1="131.69" x2="421" y2="131.69" stroke-width="1.05"/>
<line x1="161.7" y1="120.01" x2="166.3" y2="120.01" stroke-width="1.05"/>
<line x1="425.6" y1="120.01" x2="421" y2="120.01" stroke-width="1.05"/>
<line x1="161.7" y1="108.34" x2="166.3" y2="108.34" stroke-width="1.05"/>
<line x1="425.6" y1="108.34" x2="421" y2="108.34" stroke-width="1.05"/>
<line x1="161.7" y1="96.67" x2="170.7" y2="96.67" stroke-width="1.35"/>
<line x1="425.6" y1="96.67" x2="416.6" y2="96.67" stroke-width="1.35"/>
<line x1="161.7" y1="84.99" x2="166.3" y2="84.99" stroke-width="1.05"/>
<line x1="425.6" y1="84.99" x2="421" y2="84.99" stroke-width="1.05"/>
<line x1="161.7" y1="73.32" x2="166.3" y2="73.32" stroke-width="1.05"/>
<line x1="425.6" y1="73.32" x2="421" y2="73.32" stroke-width="1.05"/>
<line x1="161.7" y1="61.65" x2="166.3" y2="61.65" stroke-width="1.05"/>
<line x1="425.6" y1="61.65" x2="421" y2="61.65" stroke-width="1.05"/>
<line x1="161.7" y1="49.97" x2="166.3" y2="49.97" stroke-width="1.05"/>
<line x1="425.6" y1="49.97" x2="421" y2="49.97" stroke-width="1.05"/></g>
<rect x="161.7" y="38.3" width="263.9" height="175.1" fill="none" stroke="#000" stroke-width="1.6"/>
<text transform="translate(157.1 220.29) scale(1 1.04)" font-size="18.7" text-anchor="end">0</text>
<text transform="translate(157.1 161.93) scale(1 1.04)" font-size="18.7" text-anchor="end">5</text>
<text transform="translate(157.1 103.56) scale(1 1.04)" font-size="18.7" text-anchor="end">10</text>
<text transform="translate(157.1 45.19) scale(1 1.04)" font-size="18.7" text-anchor="end">15</text>
<text transform="translate(172.9 241.5) scale(1 1.04)" font-size="18.7">10</text>
<text transform="translate(194.2 233.9) scale(1 1.04)" font-size="11.6">13</text>
<text transform="translate(267.45 241.5) scale(1 1.04)" font-size="18.7">10</text>
<text transform="translate(288.75 233.9) scale(1 1.04)" font-size="11.6">14</text>
<text transform="translate(362 241.5) scale(1 1.04)" font-size="18.7">10</text>
<text transform="translate(383.3 233.9) scale(1 1.04)" font-size="11.6">15</text>
<text x="293.1" y="267.2" font-size="21.6" text-anchor="middle">Magnetic Field (G)</text>
<text transform="translate(121.8 127.7) rotate(-90)" font-size="21.9" text-anchor="middle">Number</text>
</svg>
</body></html>
